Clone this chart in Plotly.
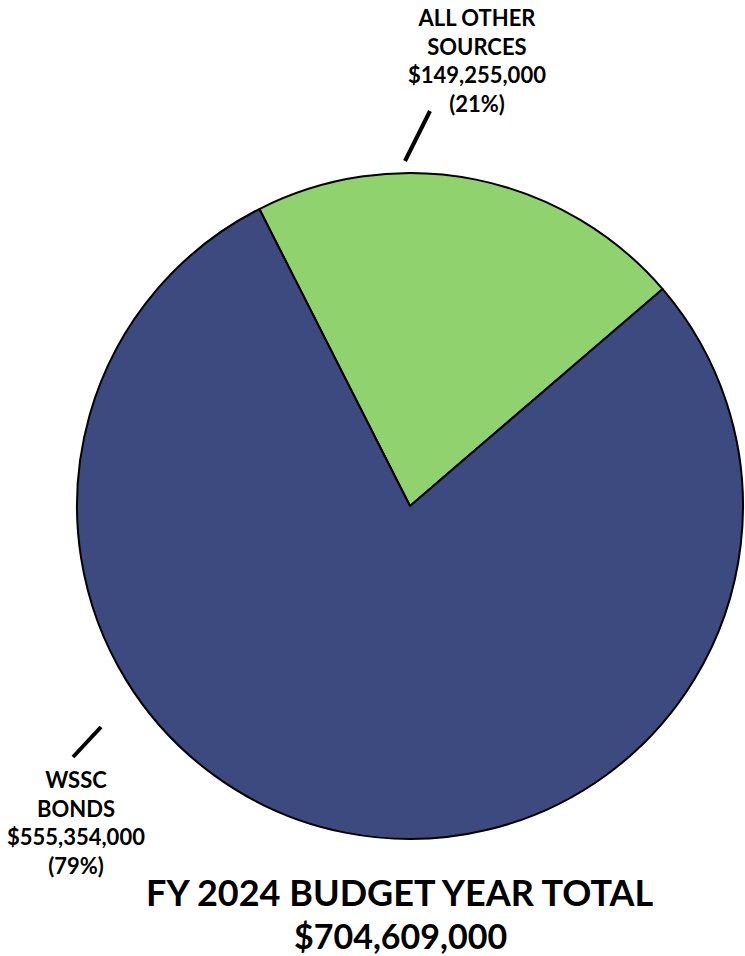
import plotly.graph_objects as go

W, H = 745, 956

categories = ["ALL OTHER SOURCES", "WSSC BONDS"]
label_lines = [["ALL OTHER", "SOURCES"], ["WSSC", "BONDS"]]
values = [149255000, 555354000]
colors = ["#90D26E", "#3C4A80"]
total = sum(values)
title_line1 = "FY 2024 BUDGET YEAR TOTAL"

FONT = "Lato"

def px(x):
    return x / W

def py(y):
    return 1 - y / H

fig = go.Figure()
fig.add_trace(go.Pie(
    labels=categories,
    values=values,
    sort=False,
    direction="clockwise",
    rotation=-26.9,
    marker=dict(colors=colors, line=dict(color="black", width=2)),
    textinfo="none",
    hoverinfo="label+value+percent",
    showlegend=False,
    domain=dict(x=[px(77), px(743)], y=[py(839), py(173)]),
))

def label_text(i):
    pct = round(values[i] / total * 100)
    return "<br>".join(label_lines[i] + [f"${values[i]:,}", f"({pct}%)"])

annos = [
    dict(x=px(477), y=py(61), text=label_text(0)),
    dict(x=px(76), y=py(822), text=label_text(1)),
]
for a in annos:
    a.update(xref="paper", yref="paper", xanchor="center", yanchor="middle",
             showarrow=False, align="center",
             font=dict(family=FONT, size=22, color="black", weight="bold"))
    fig.add_annotation(**a)

fig.add_annotation(x=px(400), y=py(892), xref="paper", yref="paper",
                   text=f"<b>{title_line1}</b>", showarrow=False,
                   xanchor="center", yanchor="middle",
                   font=dict(family=FONT, size=36, color="black"))
fig.add_annotation(x=px(400), y=py(935), xref="paper", yref="paper",
                   text=f"<b>${total:,}</b>", showarrow=False,
                   xanchor="center", yanchor="middle",
                   font=dict(family=FONT, size=34, color="black"))

for (x0, y0, x1, y1) in [(405, 161, 430, 111), (73, 757, 101, 727)]:
    fig.add_shape(type="line", xref="paper", yref="paper",
                  x0=px(x0), y0=py(y0), x1=px(x1), y1=py(y1),
                  line=dict(color="black", width=4))

fig.update_layout(width=W, height=H, margin=dict(l=0, r=0, t=0, b=0),
                  paper_bgcolor="white", plot_bgcolor="white")

fig.write_html("out.html", config={"displayModeBar": False},
               post_script="document.body.style.margin='0';document.body.style.overflow='hidden';")
